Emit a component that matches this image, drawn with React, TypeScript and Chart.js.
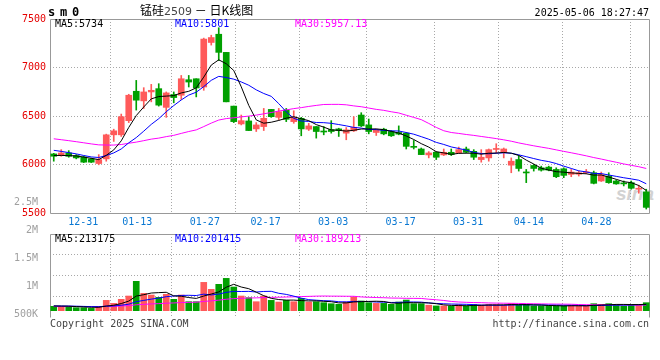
import React, { useEffect, useRef } from 'react';
import { Chart, registerables } from 'chart.js';

Chart.register(...registerables);

// ---------- data ----------
const dates = [
  '12-31',
  '01-02', '01-03', '01-06', '01-07', '01-08', '01-09', '01-10',
  '01-13', '01-14', '01-15', '01-16', '01-17',
  '01-20', '01-21', '01-22', '01-23', '01-24',
  '01-27',
  '02-05', '02-06', '02-07',
  '02-10', '02-11', '02-12', '02-13', '02-14',
  '02-17', '02-18', '02-19', '02-20', '02-21',
  '02-24', '02-25', '02-26', '02-27', '02-28',
  '03-03', '03-04', '03-05', '03-06', '03-07',
  '03-10', '03-11', '03-12', '03-13', '03-14',
  '03-17', '03-18', '03-19', '03-20', '03-21',
  '03-24', '03-25', '03-26', '03-27', '03-28',
  '03-31',
  '04-01', '04-02', '04-03',
  '04-07', '04-08', '04-09', '04-10', '04-11',
  '04-14', '04-15', '04-16', '04-17', '04-18',
  '04-21', '04-22', '04-23', '04-24', '04-25',
  '04-28', '04-29', '04-30',
  '05-06',
];

const tickDates = ['12-31', '01-13', '01-27', '02-17', '03-03', '03-17', '03-31', '04-14', '04-28'];

const opens = [
  6109, 6092, 6119, 6092, 6078, 6058, 6010, 6058, 6306, 6306,
  6452, 6755, 6656, 6748, 6782, 6589, 6721, 6714, 6874, 6884,
  6799, 7258, 7343, 7156, 6602, 6418, 6449, 6367, 6391, 6568,
  6486, 6561, 6442, 6476, 6364, 6391, 6342, 6360, 6367, 6323,
  6347, 6510, 6408, 6330, 6364, 6340, 6330, 6323, 6187, 6160,
  6099, 6126, 6099, 6126, 6119, 6160, 6136, 6051, 6068, 6155,
  6126, 5993, 6051, 5918, 5990, 5966, 5973, 5949, 5956, 5898,
  5900, 5915, 5915, 5830, 5881, 5830, 5808, 5813, 5745, 5718,
];
const highs = [
  6115, 6153, 6143, 6102, 6085, 6065, 6102, 6313, 6364, 6520,
  6724, 6867, 6792, 6826, 6833, 6748, 6748, 6918, 6918, 6884,
  7303, 7333, 7410, 7156, 6602, 6510, 6493, 6432, 6578, 6568,
  6578, 6578, 6554, 6486, 6425, 6391, 6391, 6452, 6374, 6381,
  6493, 6534, 6469, 6364, 6374, 6350, 6398, 6330, 6248, 6170,
  6133, 6133, 6160, 6160, 6180, 6180, 6153, 6153, 6160, 6214,
  6170, 6068, 6092, 5949, 6000, 5983, 5983, 5966, 5966, 5949,
  5932, 5949, 5932, 5922, 5915, 5840, 5830, 5830, 5786, 5745,
];
const lows = [
  6034, 6085, 6075, 6058, 6020, 6020, 5997, 6034, 6238, 6289,
  6432, 6561, 6578, 6646, 6602, 6486, 6636, 6670, 6799, 6697,
  6765, 7231, 7071, 6646, 6432, 6408, 6350, 6340, 6350, 6486,
  6459, 6442, 6425, 6296, 6350, 6272, 6306, 6323, 6289, 6255,
  6340, 6391, 6316, 6299, 6306, 6289, 6306, 6160, 6160, 6102,
  6068, 6051, 6092, 6092, 6119, 6119, 6051, 6024, 6034, 6119,
  6068, 5915, 5932, 5813, 5932, 5932, 5935, 5864, 5864, 5874,
  5881, 5905, 5800, 5825, 5806, 5796, 5779, 5745, 5704, 5541,
];
const closes = [
  6085, 6119, 6085, 6068, 6024, 6024, 6051, 6306, 6347, 6493,
  6714, 6663, 6748, 6765, 6612, 6738, 6690, 6884, 6850, 6789,
  7293, 7309, 7156, 6646, 6442, 6452, 6350, 6408, 6476, 6493,
  6544, 6466, 6486, 6367, 6398, 6340, 6335, 6340, 6350, 6357,
  6384, 6398, 6340, 6357, 6316, 6296, 6313, 6187, 6177, 6102,
  6119, 6075, 6126, 6102, 6153, 6126, 6075, 6075, 6153, 6160,
  6160, 6034, 5959, 5913, 5959, 5942, 5942, 5874, 5888, 5922,
  5915, 5922, 5806, 5895, 5813, 5800, 5800, 5755, 5750, 5558,
];
const volumes = [
  146000, 146000, 146000, 101000, 101000, 78000, 146000, 347000, 246000, 381000,
  493000, 986000, 582000, 526000, 448000, 549000, 381000, 526000, 302000, 302000,
  952000, 717000, 885000, 1086000, 795000, 493000, 437000, 302000, 493000, 347000,
  291000, 347000, 302000, 414000, 291000, 302000, 269000, 235000, 213000, 291000,
  459000, 325000, 269000, 246000, 246000, 213000, 291000, 358000, 235000, 235000,
  185000, 160000, 160000, 150000, 205000, 160000, 205000, 185000, 205000, 205000,
  185000, 240000, 185000, 205000, 160000, 160000, 160000, 160000, 160000, 185000,
  157000, 157000, 235000, 213000, 235000, 213000, 157000, 213000, 213000, 269000,
];
// sessions before 12-31 (estimated from where the MA lines start)
const priorCloses = [
  6400, 6380, 6390, 6360, 6370, 6350, 6360, 6350,
  6330, 6320, 6310, 6300, 6290, 6300, 6280, 6290, 6280, 6270, 6290, 6268,
  6230, 6210, 6200, 6190, 6171, 6110, 6100, 6080, 6086,
];
const priorVolumes = [
  120000, 130000, 110000, 125000, 140000, 115000, 120000, 135000, 110000, 125000,
  130000, 120000, 115000, 140000, 125000, 135000, 120000, 130000, 145000, 150000,
  160000, 170000, 155000, 165000, 150000, 175000, 160000, 170000, 150000,
];

const priceTicks = [5500, 6000, 6500, 7000, 7500];
const volumeLabelValues = [500000, 1000000, 1500000, 2000000, 2500000];
const volumeLabelTexts = ['500K', '1M', '1.5M', '2M', '2.5M'];
const volumeGridSteps = [0, 1, 2, 3, 4];

const priceLegend = ['MA5:5734', 'MA10:5801', 'MA30:5957.13'];
const volumeLegend = ['MA5:213175', 'MA10:201415', 'MA30:189213'];

// ---------- styles ----------
const MONO = '"DejaVu Sans Mono", "Liberation Mono", monospace';
const UP = '#ff5a5a';
const DOWN = '#00a000';
const GRID = '#a8a8a8';
const FRAME = '#999999';
const MA_COLORS = ['#000000', '#0000ff', '#ff00ff'];

function movingAverage(values: number[], prior: number[], n: number): number[] {
  const all = prior.concat(values);
  return values.map((_, i) => {
    const end = prior.length + i + 1;
    const win = all.slice(Math.max(0, end - n), end);
    return win.reduce((s, v) => s + v, 0) / win.length;
  });
}

function framePlugin(sides: { top: boolean; right: boolean; bottom: boolean; left: boolean }) {
  return {
    id: 'panelFrame',
    beforeDatasetsDraw(chart: any) {
      const { ctx, chartArea } = chart;
      const l = Math.floor(chartArea.left) + 0.5;
      const r = Math.ceil(chartArea.right) - 0.5;
      const t = Math.floor(chartArea.top) + 0.5;
      const b = Math.floor(chartArea.bottom) + 0.5;
      ctx.save();
      ctx.strokeStyle = FRAME;
      ctx.lineWidth = 1;
      ctx.setLineDash([]);
      ctx.beginPath();
      if (sides.top) { ctx.moveTo(l, t); ctx.lineTo(r, t); }
      if (sides.bottom) { ctx.moveTo(l, b); ctx.lineTo(r, b); }
      if (sides.left) { ctx.moveTo(l, t); ctx.lineTo(l, b); }
      if (sides.right) { ctx.moveTo(r, t); ctx.lineTo(r, b); }
      ctx.stroke();
      ctx.restore();
    },
  };
}

const dateTickIndex = tickDates.map((d) => dates.indexOf(d));
const candleColors = closes.map((c, i) => (c >= opens[i] ? UP : DOWN));

function dateAxis(showLabels: boolean, height: number) {
  return {
    type: 'linear',
    position: 'bottom',
    min: 0,
    max: dates.length - 1,
    afterBuildTicks: (s: any) => { s.ticks = dateTickIndex.map((v) => ({ value: v })); },
    afterFit: (s: any) => { s.height = height; },
    ticks: {
      display: showLabels,
      autoSkip: false,
      maxRotation: 0,
      padding: 3,
      color: '#0a78d2',
      font: { family: MONO, size: 10 },
      callback: (v: number) => dates[v],
    },
    grid: {
      drawTicks: false,
      lineWidth: 1,
      color: (ctx: any) => (ctx.tick && ctx.tick.value === 0 ? 'rgba(0,0,0,0)' : GRID),
    },
    border: { display: false, dash: [1, 2] },
  };
}

function lineDataset(label: string, data: number[], color: string, yAxisID: string) {
  return {
    type: 'line',
    label,
    data,
    xAxisID: 'x',
    yAxisID,
    borderColor: color,
    borderWidth: 1,
    pointRadius: 0,
    tension: 0,
    fill: false,
    order: 0,
  };
}

export default function App() {
  const priceRef = useRef<HTMLCanvasElement>(null);
  const volRef = useRef<HTMLCanvasElement>(null);

  useEffect(() => {
    const priceChart = new Chart(priceRef.current as HTMLCanvasElement, {
      type: 'bar',
      data: {
        labels: dates,
        datasets: [
          lineDataset('MA5', movingAverage(closes, priorCloses, 5), MA_COLORS[0], 'y'),
          lineDataset('MA10', movingAverage(closes, priorCloses, 10), MA_COLORS[1], 'y'),
          lineDataset('MA30', movingAverage(closes, priorCloses, 30), MA_COLORS[2], 'y'),
          {
            type: 'bar',
            label: 'body',
            data: opens.map((o, i) => [o, closes[i]]),
            backgroundColor: candleColors,
            borderWidth: 0,
            barThickness: 6,
            minBarLength: 1,
            grouped: false,
            xAxisID: 'x',
            yAxisID: 'y',
            order: 1,
          },
          {
            type: 'bar',
            label: 'wick',
            data: lows.map((l, i) => [l, highs[i]]),
            backgroundColor: candleColors,
            borderWidth: 0,
            barThickness: 1,
            grouped: false,
            xAxisID: 'x',
            yAxisID: 'y',
            order: 2,
          },
        ] as any,
      },
      options: {
        animation: false,
        responsive: false,
        maintainAspectRatio: false,
        devicePixelRatio: 1,
        events: [],
        layout: { padding: { top: 19, right: 10, bottom: 0, left: 0 } },
        plugins: { legend: { display: false }, tooltip: { enabled: false } },
        scales: {
          x: { type: 'category', offset: true, display: false, grid: { display: false } },
          xt: dateAxis(true, 19),
          y: {
            type: 'linear',
            position: 'left',
            min: priceTicks[0],
            max: priceTicks[priceTicks.length - 1],
            afterBuildTicks: (s: any) => { s.ticks = priceTicks.map((v) => ({ value: v })); },
            afterFit: (s: any) => { s.width = 50; },
            ticks: {
              autoSkip: false,
              padding: 4,
              color: '#e60000',
              font: { family: MONO, size: 10 },
              callback: (v: number) => String(v),
            },
            grid: {
              drawTicks: false,
              color: (ctx: any) =>
                ctx.tick && (ctx.tick.value === priceTicks[0] || ctx.tick.value === priceTicks[priceTicks.length - 1])
                  ? 'rgba(0,0,0,0)'
                  : GRID,
            },
            border: { display: false, dash: [1, 2] },
          },
        } as any,
      },
      plugins: [framePlugin({ top: true, right: true, bottom: true, left: true })],
    } as any);

    const volChart = new Chart(volRef.current as HTMLCanvasElement, {
      type: 'bar',
      data: {
        labels: dates,
        datasets: [
          lineDataset('VMA5', movingAverage(volumes, priorVolumes, 5), MA_COLORS[0], 'yv'),
          lineDataset('VMA10', movingAverage(volumes, priorVolumes, 10), MA_COLORS[1], 'yv'),
          lineDataset('VMA30', movingAverage(volumes, priorVolumes, 30), MA_COLORS[2], 'yv'),
          {
            type: 'bar',
            label: 'volume',
            data: volumes,
            backgroundColor: candleColors,
            borderWidth: 0,
            barThickness: 6,
            grouped: false,
            xAxisID: 'x',
            yAxisID: 'yv',
            order: 1,
          },
        ] as any,
      },
      options: {
        animation: false,
        responsive: false,
        maintainAspectRatio: false,
        devicePixelRatio: 1,
        events: [],
        layout: { padding: { top: 44, right: 10, bottom: 43, left: 0 } },
        plugins: { legend: { display: false }, tooltip: { enabled: false } },
        scales: {
          x: { type: 'category', offset: true, display: false, grid: { display: false } },
          xt: dateAxis(false, 0),
          yv: { type: 'linear', display: false, min: -212000, max: 2577000 },
          yg: {
            type: 'linear',
            position: 'left',
            weight: 0,
            min: volumeGridSteps[0],
            max: volumeGridSteps[volumeGridSteps.length - 1],
            afterBuildTicks: (s: any) => { s.ticks = volumeGridSteps.map((v) => ({ value: v })); },
            afterFit: (s: any) => { s.width = 0; },
            ticks: { display: false },
            grid: {
              drawTicks: false,
              color: (ctx: any) =>
                ctx.tick && (ctx.tick.value === volumeGridSteps[0] || ctx.tick.value === volumeGridSteps[volumeGridSteps.length - 1])
                  ? 'rgba(0,0,0,0)'
                  : GRID,
            },
            border: { display: false, dash: [1, 2] },
          },
          yl: {
            type: 'linear',
            position: 'left',
            weight: 1,
            min: 461000,
            max: 1938000,
            afterBuildTicks: (s: any) => { s.ticks = volumeLabelValues.map((v) => ({ value: v })); },
            afterFit: (s: any) => { s.width = 50; },
            ticks: {
              autoSkip: false,
              padding: 4,
              color: '#a0a0a0',
              font: { family: MONO, size: 10 },
              callback: (v: number) => volumeLabelTexts[volumeLabelValues.indexOf(v)],
            },
            grid: { display: false },
            border: { display: false },
          },
        } as any,
      },
      plugins: [framePlugin({ top: true, right: true, bottom: false, left: true })],
    } as any);

    return () => {
      priceChart.destroy();
      volChart.destroy();
    };
  }, []);

  const mono: React.CSSProperties = {
    position: 'absolute',
    fontFamily: MONO,
    fontSize: 10,
    lineHeight: '12px',
    whiteSpace: 'pre',
  };
  const legendX = [55, 175, 295];

  return (
    <div style={{ position: 'absolute', left: 0, top: 0, width: 660, height: 360, background: '#fff', overflow: 'hidden' }}>
      <div
        style={{
          position: 'absolute', left: 616, top: 184, fontFamily: '"Liberation Sans", Arial, sans-serif',
          fontStyle: 'italic', fontWeight: 'bold', fontSize: 19, color: '#d2d2d2', lineHeight: '20px',
        }}
      >
        sina
      </div>
      <canvas ref={priceRef} width={660} height={232} style={{ position: 'absolute', left: 0, top: 0, display: 'block' }} />
      <canvas ref={volRef} width={660} height={170} style={{ position: 'absolute', left: 0, top: 190, display: 'block' }} />

      <div style={{ ...mono, left: 48, top: 5, fontSize: 12, lineHeight: '14px', letterSpacing: '-1.2px', fontWeight: 'bold', color: '#000' }}>s m 0</div>
      <div style={{ position: 'absolute', left: 140, top: 3, lineHeight: '14px', whiteSpace: 'pre', color: '#000' }}>
        <span style={{ fontFamily: '"Noto Sans CJK SC", sans-serif', fontSize: 12 }}>锰硅</span>
        <span style={{ fontFamily: '"DejaVu Sans", sans-serif', fontSize: 11, color: '#444' }}>2509</span>
        <span style={{ fontFamily: '"Noto Sans CJK SC", sans-serif', fontSize: 12 }}> － 日K线图</span>
      </div>
      <div style={{ ...mono, right: 11, top: 7, color: '#000' }}>2025-05-06 18:27:47</div>

      {priceLegend.map((t, i) => (
        <div key={'p' + i} style={{ ...mono, left: legendX[i], top: 18, color: MA_COLORS[i] }}>{t}</div>
      ))}
      {volumeLegend.map((t, i) => (
        <div key={'v' + i} style={{ ...mono, left: legendX[i], top: 233, color: MA_COLORS[i] }}>{t}</div>
      ))}

      <div style={{ ...mono, left: 50, top: 318, color: '#444' }}>Copyright 2025 SINA.COM</div>
      <div style={{ ...mono, right: 11, top: 318, color: '#444' }}>http://finance.sina.com.cn</div>
    </div>
  );
}
